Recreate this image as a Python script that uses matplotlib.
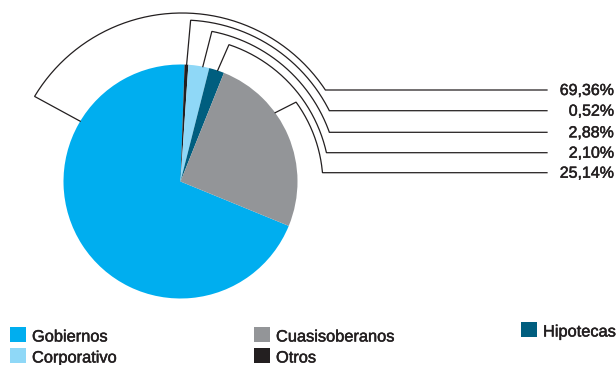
import numpy as np
import matplotlib.pyplot as plt
import matplotlib.patheffects as pe
from matplotlib.patches import Rectangle

plt.rcParams['font.family'] = ['Liberation Sans', 'DejaVu Sans']

# data (order = order of the percentage labels, top to bottom)
categories = ['Gobiernos', 'Otros', 'Corporativo', 'Hipotecas', 'Cuasisoberanos']
shares = [69.36, 0.52, 2.88, 2.10, 25.14]
colors = ['#00aeef', '#231f20', '#8fd8f7', '#005e7f', '#939598']

# layout, in pixels (y up)
W, H = 616, 365
pie_c = (180.5, 183.5)
pie_r = 117
arc_c = (182, 180)
arc_r = [172, 165, 156.5, 148, 141]
anchor_deg = [149, 87, 79, 71.5, 36]
label_y = [275, 254.3, 232.7, 212.3, 192.3]
line_end_x = 547
text_x = 614
ink = '#231f20'
heavy = [pe.withStroke(linewidth=0.35, foreground=ink)]

# legend: square bottom-left (x, y from top)
legend_pos = {'Gobiernos': (10, 342), 'Corporativo': (10, 363),
              'Cuasisoberanos': (254, 342), 'Otros': (254, 363),
              'Hipotecas': (521, 337)}

fig = plt.figure(figsize=(W / 100, H / 100), dpi=100)
ax = fig.add_axes([0, 0, 1, 1])

start = 88 + 3.6 * shares[0]
ax.pie(shares, colors=colors, startangle=start, counterclock=False,
       center=pie_c, radius=pie_r, wedgeprops=dict(linewidth=0))
ax.set_xlim(0, W)
ax.set_ylim(0, H)
ax.set_aspect('equal')
ax.axis('off')

# callout brackets
for i, v in enumerate(shares):
    a = np.radians(anchor_deg[i])
    r = arc_r[i]
    end = np.arcsin((label_y[i] - arc_c[1]) / r)
    th = np.linspace(a, end, 200)
    xs = [pie_c[0] + pie_r * np.cos(a)] + list(arc_c[0] + r * np.cos(th)) + [line_end_x]
    ys = [pie_c[1] + pie_r * np.sin(a)] + list(arc_c[1] + r * np.sin(th)) + [label_y[i]]
    ax.plot(xs, ys, color=ink, lw=0.9, solid_joinstyle='miter')
    txt = f"{v:.2f}".replace('.', ',') + '%'
    ax.text(text_x, label_y[i] - 5, txt, ha='right', va='baseline',
            fontsize=11.5, color=ink, path_effects=heavy)

# legend
for name, col in zip(categories, colors):
    x, yb = legend_pos[name]
    ax.add_patch(Rectangle((x, H - yb), 16, 15, color=col, lw=0, clip_on=False))
    ax.text(x + 22, H - yb + 0.5, name, ha='left', va='baseline',
            fontsize=11.8, color=ink, path_effects=heavy)

fig.savefig('out.png', dpi=100)
